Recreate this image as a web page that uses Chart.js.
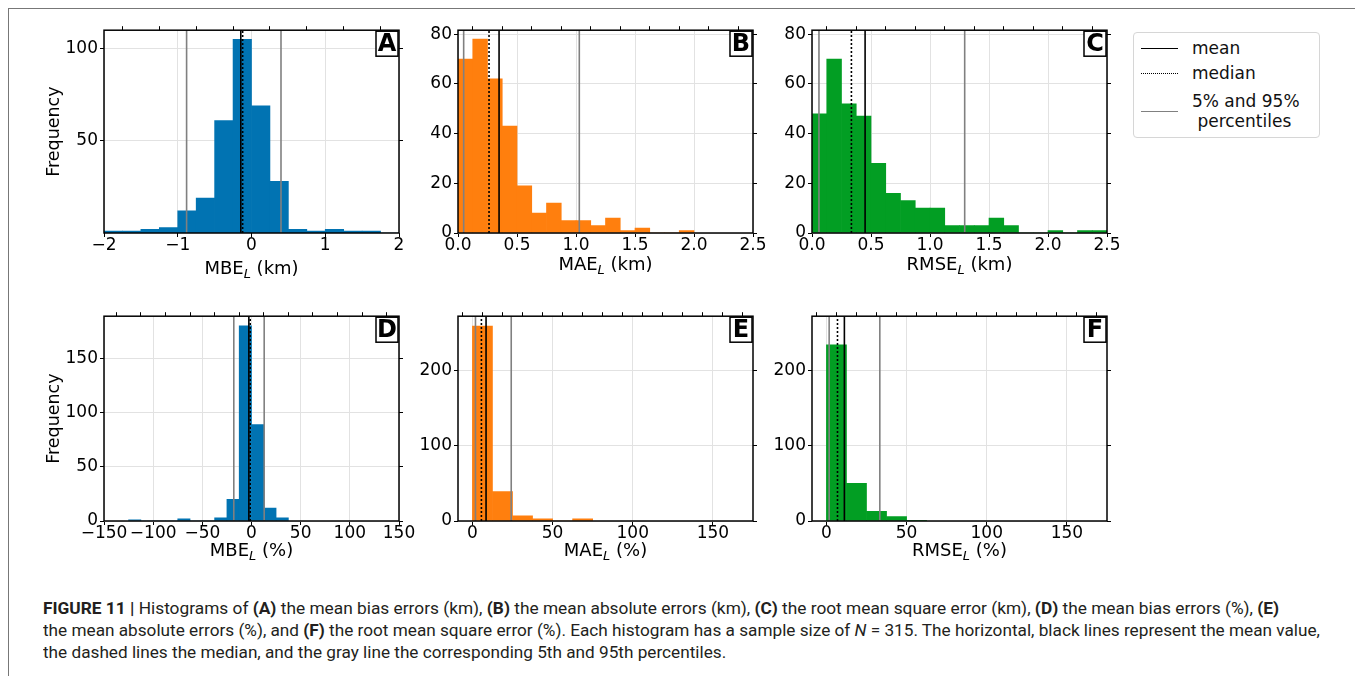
<!DOCTYPE html>
<html>
<head>
<meta charset="utf-8">
<script src="https://cdn.jsdelivr.net/npm/chart.js@4.4.1/dist/chart.umd.min.js"></script>
<style>
  body { margin: 0; width: 1355px; height: 676px; background: #fff; position: relative; overflow: hidden; font-family: "DejaVu Sans", sans-serif; }
  .frame { position: absolute; left: 8px; top: 8px; width: 1360px; height: 700px; border: 1.5px solid #777; }
  canvas { position: absolute; }
  .legend { position: absolute; left: 1133px; top: 32px; width: 185px; height: 104px; border: 1px solid #d6d6d6; border-radius: 4px; font-size: 17px; color: #111; }
  .legend .txt { position: absolute; left: 58px; line-height: 20px; white-space: nowrap; }
  .legend .sw { position: absolute; left: 7px; width: 37px; height: 0; }
  .caption { position: absolute; left: 43px; font-family: "Liberation Sans Narrow", "Roboto", sans-serif; font-size: 16.5px; color: #231f20; white-space: nowrap; line-height: 22px; transform-origin: 0 50%; }
</style>
</head>
<body>
<div class="frame"></div>

<div class="legend">
  <div class="sw" style="top:15px;border-top:1.6px solid #000"></div>
  <div class="txt" style="top:5px">mean</div>
  <div class="sw" style="top:40px;border-top:1.6px dotted #000"></div>
  <div class="txt" style="top:30px">median</div>
  <div class="sw" style="top:78px;border-top:1.6px solid #808080"></div>
  <div class="txt" style="top:58px">5% and 95%<br>&nbsp;percentiles</div>
</div>

<div class="caption" id="cap1" style="top:598px"><b>FIGURE 11 |</b> Histograms of <b>(A)</b> the mean bias errors (km), <b>(B)</b> the mean absolute errors (km), <b>(C)</b> the root mean square error (km), <b>(D)</b> the mean bias errors (%), <b>(E)</b></div>
<div class="caption" id="cap2" style="top:620px">the mean absolute errors (%), and <b>(F)</b> the root mean square error (%). Each histogram has a sample size of <i>N</i> = 315. The horizontal, black lines represent the mean value,</div>
<div class="caption" id="cap3" style="top:642px">the dashed lines the median, and the gray line the corresponding 5th and 95th percentiles.</div>

<script>
// histogram counts per panel (A-F)
const countsA = [1, 1, 2, 3, 12, 19, 61, 105, 69, 28, 2, 1, 2, 1, 1, 0];
const countsB = [70, 78, 62, 43, 19, 8, 12, 5, 5, 3, 6, 1, 2, 0, 0, 1];
const countsC = [48, 70, 52, 47, 28, 16, 13, 10, 10, 3, 3, 3, 6, 3, 0, 0, 1, 0, 1, 1];
const countsD = [1, 0, 0, 0, 2, 0, 0, 3, 20, 180, 89, 12, 3];
const countsE = [259, 39, 7, 3, 0, 3];
const countsF = [234, 50, 13, 6, 1];
const allCounts = [countsA, countsB, countsC, countsD, countsE, countsF];

const binStarts = [-2, 0, 0, -125, 0, 0];
const binWidths = [0.25, 0.125, 0.125, 12.5, 12.5, 12.5];

// statistics lines
const meanValues = [-0.145, 0.348, 0.45, -2.7, 8.5, 11.2];
const medianValues = [-0.12, 0.263, 0.334, -1.3, 5.6, 6.9];
const p5Values = [-0.88, 0.048, 0.059, -18, 1.9, 1.7];
const p95Values = [0.40, 1.028, 1.294, 12.9, 24.2, 33.3];

// axes
const panelLetters = ["A", "B", "C", "D", "E", "F"];
const xNames = ["MBE", "MAE", "RMSE", "MBE", "MAE", "RMSE"];
const xUnits = [" (km)", " (km)", " (km)", " (%)", " (%)", " (%)"];
const xRanges = [[-2, 2], [0, 2.5], [0, 2.5], [-150, 150], [-9, 175], [-9, 175]];
const yMaxes = [110, 81.6, 81.6, 189, 272, 272];
const xTicks = [
  [-2, -1, 0, 1, 2],
  [0, 0.5, 1, 1.5, 2, 2.5],
  [0, 0.5, 1, 1.5, 2, 2.5],
  [-150, -100, -50, 0, 50, 100, 150],
  [0, 50, 100, 150],
  [0, 50, 100, 150]
];
const xTopSteps = [0.5, 0.25, 0.25, 25, 12.5, 12.5];
const yTicks = [[50, 100], [0, 20, 40, 60, 80], [0, 20, 40, 60, 80], [0, 50, 100, 150], [0, 100, 200], [0, 100, 200]];
const decimals = [0, 1, 1, 0, 0, 0];

const barColors = ["#0173b2", "#ff7f0e", "#029e23", "#0173b2", "#ff7f0e", "#029e23"];

// layout (page pixels of each plot area)
const plotBoxes = [
  [104, 30, 399, 233], [458, 30, 753, 233], [812, 30, 1107, 233],
  [104, 316, 399, 521], [458, 316, 753, 521], [812, 316, 1107, 521]
];
const titleOffsets = [35, 31, 31, 29, 29, 29];
const PAD = { left: 70, top: 12, right: 24, bottom: 55 };
const tickFont = { family: "DejaVu Sans", size: 17 };

function fmt(v, d) {
  return v.toFixed(d).replace("-", "\u2212");
}

function setTicks(list) {
  return s => { s.ticks = list.map(v => ({ value: v })); };
}

function stepTicks(min, max, step) {
  const out = [];
  const first = Math.ceil(min / step - 1e-9) * step;
  for (let v = first; v <= max + 1e-9; v += step) out.push(v);
  return out;
}

function decorPlugin(i) {
  return {
    id: "decor" + i,
    afterDatasetsDraw(chart) {
      const { ctx, chartArea: a } = chart;
      ctx.save();
      // frame
      ctx.strokeStyle = "#000";
      ctx.lineWidth = 1.5;
      ctx.strokeRect(a.left, a.top, a.right - a.left, a.bottom - a.top);

      // panel letter
      ctx.font = "bold 24px 'DejaVu Sans'";
      const bw = 22, bh = 25;
      const bx = a.right - bw - 1, by = a.top + 1;
      ctx.fillStyle = "#fff";
      ctx.fillRect(bx, by, bw, bh);
      ctx.lineWidth = 1.5;
      ctx.strokeRect(bx, by, bw, bh);
      ctx.fillStyle = "#000";
      ctx.textAlign = "center";
      ctx.textBaseline = "middle";
      ctx.fillText(panelLetters[i], bx + bw / 2, by + bh / 2 + 1);

      // x title with subscript L
      const cx = (a.left + a.right) / 2;
      const base = a.bottom + titleOffsets[i] + 6;
      ctx.textAlign = "left";
      ctx.textBaseline = "alphabetic";
      ctx.font = "18px 'DejaVu Sans'";
      const w1 = ctx.measureText(xNames[i]).width;
      const w3 = ctx.measureText(xUnits[i]).width;
      ctx.font = "italic 13px 'DejaVu Sans'";
      const w2 = ctx.measureText("L").width;
      let x = cx - (w1 + w2 + w3) / 2;
      ctx.font = "18px 'DejaVu Sans'";
      ctx.fillText(xNames[i], x, base);
      x += w1;
      ctx.font = "italic 13px 'DejaVu Sans'";
      ctx.fillText("L", x, base + 4);
      x += w2;
      ctx.font = "18px 'DejaVu Sans'";
      ctx.fillText(xUnits[i], x, base);

      // y title on first column
      if (i % 3 === 0) {
        ctx.translate(a.left - 50, (a.top + a.bottom) / 2);
        ctx.rotate(-Math.PI / 2);
        ctx.textAlign = "center";
        ctx.textBaseline = "middle";
        ctx.font = "17.5px 'DejaVu Sans'";
        ctx.fillText("Frequency", 0, 0);
      }
      ctx.restore();
    }
  };
}

function vline(x, yMax, color, dash) {
  return {
    type: "line",
    data: [{ x: x, y: 0 }, { x: x, y: yMax }],
    borderColor: color,
    borderWidth: 1.6,
    borderDash: dash,
    pointRadius: 0,
    xAxisID: "x",
    yAxisID: "y",
    order: 1
  };
}

plotBoxes.forEach((box, i) => {
  const [l, t, r, b] = box;
  const cv = document.createElement("canvas");
  cv.width = r - l + PAD.left + PAD.right;
  cv.height = b - t + PAD.top + PAD.bottom;
  cv.style.left = (l - PAD.left) + "px";
  cv.style.top = (t - PAD.top) + "px";
  document.body.appendChild(cv);

  const bars = allCounts[i].map((c, k) => ({ x: binStarts[i] + (k + 0.5) * binWidths[i], y: c }));
  const [xmin, xmax] = xRanges[i];
  const ymax = yMaxes[i];

  new Chart(cv.getContext("2d"), {
    type: "bar",
    data: {
      datasets: [
        {
          data: bars,
          backgroundColor: barColors[i],
          borderWidth: 0,
          barPercentage: 1,
          categoryPercentage: 1,
          xAxisID: "x",
          yAxisID: "y",
          order: 2
        },
        vline(p5Values[i], ymax, "#808080", []),
        vline(p95Values[i], ymax, "#808080", []),
        vline(medianValues[i], ymax, "#000", [2, 2]),
        vline(meanValues[i], ymax, "#000", [])
      ]
    },
    options: {
      responsive: false,
      animation: false,
      events: [],
      layout: { padding: 0 },
      plugins: { legend: { display: false }, tooltip: { enabled: false } },
      scales: {
        x: {
          type: "linear", position: "bottom", min: xmin, max: xmax, offset: false,
          afterBuildTicks: setTicks(xTicks[i]),
          afterFit: s => { s.height = PAD.bottom; },
          grid: { offset: false, color: "#e2e2e2", tickColor: "#000", tickLength: 4 },
          border: { display: false },
          ticks: { font: tickFont, color: "#000", padding: -2, autoSkip: false, maxRotation: 0, callback: v => fmt(v, decimals[i]) }
        },
        xTop: {
          type: "linear", position: "top", min: xmin, max: xmax, offset: false,
          afterBuildTicks: setTicks(stepTicks(xmin, xmax, xTopSteps[i])),
          afterFit: s => { s.height = PAD.top; },
          grid: { drawOnChartArea: false, tickColor: "#000", tickLength: 4 },
          border: { display: false },
          ticks: { display: false }
        },
        y: {
          type: "linear", position: "left", min: 0, max: ymax,
          afterBuildTicks: setTicks(yTicks[i]),
          afterFit: s => { s.width = PAD.left; },
          grid: { color: "#e2e2e2", tickColor: "#000", tickLength: 4 },
          border: { display: false },
          ticks: { font: tickFont, color: "#000", padding: 2, autoSkip: false, callback: v => fmt(v, 0) }
        },
        yRight: {
          type: "linear", position: "right", min: 0, max: ymax,
          afterBuildTicks: setTicks(yTicks[i]),
          afterFit: s => { s.width = PAD.right; },
          grid: { drawOnChartArea: false, tickColor: "#000", tickLength: 4 },
          border: { display: false },
          ticks: { display: false }
        }
      }
    },
    plugins: [decorPlugin(i)]
  });
});

// fit caption lines to the widths of the printed caption
const capTargets = { cap1: 1236, cap2: 1277 };
let capScale = 1;
Object.keys(capTargets).forEach(id => {
  const el = document.getElementById(id);
  const s = capTargets[id] / el.scrollWidth;
  el.style.transform = `scaleX(${s})`;
  if (id === "cap2") capScale = s;
});
document.getElementById("cap3").style.transform = `scaleX(${capScale})`;
</script>
</body>
</html>
